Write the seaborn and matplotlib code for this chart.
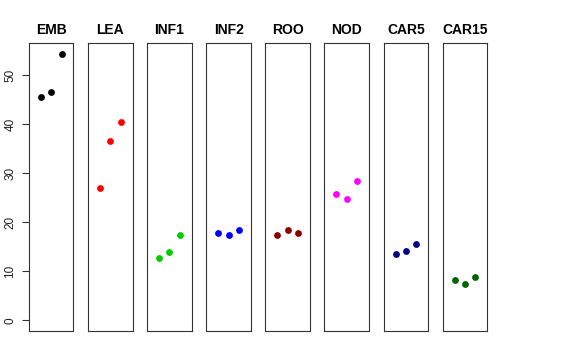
import pandas as pd
import matplotlib
matplotlib.use("Agg")
import matplotlib.pyplot as plt
import seaborn as sns

# Tissue panels and their three replicate values
tissues = ["EMB", "LEA", "INF1", "INF2", "ROO", "NOD", "CAR5", "CAR15"]
emb = [45.5, 46.5, 54.35]
lea = [27.1, 36.5, 40.4]
inf1 = [12.7, 13.9, 17.5]
inf2 = [17.8, 17.4, 18.4]
roo = [17.4, 18.4, 17.8]
nod = [25.7, 24.7, 28.5]
car5 = [13.5, 14.1, 15.5]
car15 = [8.2, 7.5, 8.9]
colors = ["black", "red", "#00CD00", "blue", "#8B0000", "magenta", "#000080", "#006400"]

values = [emb, lea, inf1, inf2, roo, nod, car5, car15]
rows = []
for t, vals in zip(tissues, values):
    for i, v in enumerate(vals):
        rows.append({"tissue": t, "rep": i + 1, "value": v})
df = pd.DataFrame(rows)

sns.set_style("white")
plt.rcParams["font.family"] = ["Liberation Sans", "DejaVu Sans"]

fig, axes = plt.subplots(1, 8, figsize=(5.76, 3.6), dpi=100, sharey=True)
fig.subplots_adjust(left=0.0503, right=0.8458, top=0.8797, bottom=0.0806, wspace=0.328)

ymax = df["value"].max()
for ax, t, c in zip(axes, tissues, colors):
    sub = df[df["tissue"] == t]
    sns.scatterplot(data=sub, x="rep", y="value", ax=ax, color=c, s=24, linewidth=0)
    ax.set_xlim(-0.16, 4.16)
    ax.set_ylim(-0.04 * ymax, ymax * 1.04)
    ax.set_title(t, fontsize=10, fontweight="bold", pad=6.5, color="black")
    ax.set_xlabel("")
    ax.set_ylabel("")
    ax.set_xticks([])
    for sp in ax.spines.values():
        sp.set_visible(True)
        sp.set_color("#333333")
        sp.set_linewidth(0.8)

axes[0].set_yticks([0, 10, 20, 30, 40, 50])
axes[0].tick_params(axis="y", left=True, length=5, width=0.8, color="#333333",
                    labelsize=8.5, labelrotation=90, labelcolor="#222222", pad=4)
for lab in axes[0].get_yticklabels():
    lab.set_va("center")
for ax in axes[1:]:
    ax.tick_params(axis="y", left=False, labelleft=False)

fig.savefig("out.png", dpi=100)
